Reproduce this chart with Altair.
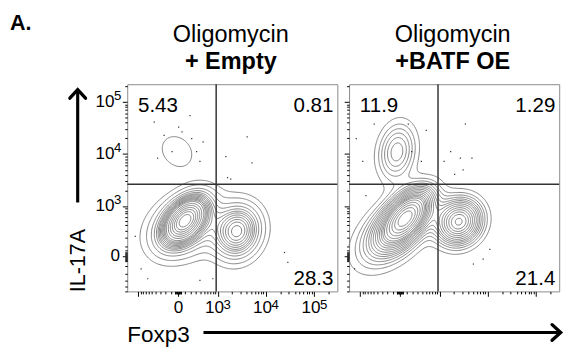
import numpy as np
import pandas as pd
import altair as alt

FONT = "Liberation Sans"

# ---------------- display transform (biexponential-like, arcsinh) ----------------
X_COFACTOR = 312.5   # Foxp3 channel
Y_COFACTOR = 222.0   # IL-17A channel


def tx(v):
    return np.arcsinh(np.asarray(v, dtype=float) / X_COFACTOR)


def ty(v):
    return np.arcsinh(np.asarray(v, dtype=float) / Y_COFACTOR)


X_DOMAIN = [-2.41, 7.56]   # display units
Y_DOMAIN = [-1.57, 7.59]

# ---------------- data ----------------
panel_top = ["Oligomycin", "Oligomycin"]
panel_bottom = ["+ Empty", "+BATF OE"]
q_upper_left = ["5.43", "11.9"]
q_upper_right = ["0.81", "1.29"]
q_lower_right = ["28.3", "21.4"]

gate_x = 1.81   # quadrant gate, display units
gate_y = 3.17

# populations (display units): centre x / y, sd x / y, correlation, weight
empty_cx = [0.34, 0.35, 2.81, -0.05]
empty_cy = [1.59, 1.30, 1.08, 4.62]
empty_sx = [0.62, 1.05, 0.68, 0.62]
empty_sy = [0.62, 0.85, 0.72, 0.58]
empty_r = [0.45, 0.25, 0.10, -0.20]
empty_w = [0.40, 0.27, 0.28, 0.027]

batf_cx = [0.32, -0.30, 2.80, -0.14]
batf_cy = [1.73, 1.10, 1.51, 4.60]
batf_sx = [0.70, 1.10, 0.68, 0.60]
batf_sy = [0.72, 1.00, 0.64, 0.85]
batf_r = [0.55, 0.50, 0.10, 0.15]
batf_w = [0.36, 0.28, 0.24, 0.11]

# outlier events (display units)
empty_dot_x = [-1.13, -0.97, -0.28, 0.19, 0.57, 0.65, 1.04, 0.88, 3.28, 2.35, 2.50, 3.51,
               -1.75, -1.44, -2.03, 5.05, 5.21, 1.65, 1.04, 0.03, -0.66, 1.19, 2.27]
empty_dot_y = [5.91, 4.32, 4.61, 5.48, 6.20, 5.19, 4.18, 4.61, 5.26, 3.46, 3.39, 4.11,
               -0.57, -1.01, 0.86, 0.15, -0.29, -1.01, -1.08, 5.69, 5.33, 5.04, 4.39]
batf_dot_x = [-1.22, -2.07, -1.76, 1.25, 1.02, 2.41, 2.87, 3.11, 3.42, 2.10, -1.61, -2.15,
              3.95, 3.49, 4.27, 0.40, 0.56, 2.60, 3.00]
batf_dot_y = [5.83, 5.19, 4.18, 5.55, 4.18, 4.61, 4.32, 5.83, 4.32, 4.18, 2.67, -0.57,
              -0.14, -0.36, 0.29, 5.83, 4.61, 3.60, 3.80]

# axis ticks (raw fluorescence)
x_major = [-1000, 0, 1000, 10000, 100000]
y_major = [0, 1000, 10000, 100000]
label_raw = [0, 1000, 10000, 100000]
label_base = ["0", "10", "10", "10"]
label_exp = ["", "3", "4", "5"]
near_zero = [-50, -40, -30, -20, -10, 10, 20, 30, 40, 50]
minor_raw = ([-m * 100 for m in range(9, 0, -1)] + near_zero + [m * 100 for m in range(1, 10)]
             + [m * 1000 for m in range(2, 10)] + [m * 10000 for m in range(2, 10)] + [200000])

prob_step = 0.05   # equal-probability contouring


# ---------------- helpers ----------------
def density(cx, cy, sx, sy, r, w, gx, gy):
    Z = np.zeros_like(gx)
    for a, b, s1, s2, rho, wt in zip(cx, cy, sx, sy, r, w):
        dx = (gx - a) / s1
        dy = (gy - b) / s2
        q = (dx * dx - 2 * rho * dx * dy + dy * dy) / (1 - rho * rho)
        Z += wt / (2 * np.pi * s1 * s2 * np.sqrt(1 - rho * rho)) * np.exp(-0.5 * q)
    return Z


def trace(Z, xs, ys, level):
    above = Z > level

    def pt(e):
        kind, i, j = e
        if kind == "h":
            za, zb = Z[j, i], Z[j, i + 1]
            t = (level - za) / (zb - za)
            return xs[i] + t * (xs[i + 1] - xs[i]), ys[j]
        za, zb = Z[j, i], Z[j + 1, i]
        t = (level - za) / (zb - za)
        return xs[i], ys[j] + t * (ys[j + 1] - ys[j])

    adj = {}

    def link(a, b):
        adj.setdefault(a, []).append(b)
        adj.setdefault(b, []).append(a)

    idx = (above[:-1, :-1].astype(int) + 2 * above[:-1, 1:] + 4 * above[1:, 1:] + 8 * above[1:, :-1])
    js, is_ = np.nonzero((idx > 0) & (idx < 15))
    for j, i in zip(js, is_):
        c = idx[j, i]
        B = ("h", i, j)
        R = ("v", i + 1, j)
        T = ("h", i, j + 1)
        L = ("v", i, j)
        if c in (5, 10):
            center = (Z[j, i] + Z[j, i + 1] + Z[j + 1, i + 1] + Z[j + 1, i]) / 4 > level
            if (c == 5) == bool(center):
                link(B, R); link(T, L)
            else:
                link(L, B); link(R, T)
            continue
        edges = []
        if above[j, i] != above[j, i + 1]:
            edges.append(B)
        if above[j, i + 1] != above[j + 1, i + 1]:
            edges.append(R)
        if above[j + 1, i + 1] != above[j + 1, i]:
            edges.append(T)
        if above[j + 1, i] != above[j, i]:
            edges.append(L)
        link(edges[0], edges[1])

    paths, visited = [], set()
    starts = [e for e, n in adj.items() if len(n) == 1] + list(adj.keys())
    for s in starts:
        if s in visited:
            continue
        chain = [s]
        visited.add(s)
        cur = s
        while True:
            nxt = None
            for n in adj[cur]:
                if n not in visited:
                    nxt = n
                    break
            if nxt is None:
                if len(chain) > 2 and s in adj[cur]:
                    chain.append(s)
                break
            chain.append(nxt)
            visited.add(nxt)
            cur = nxt
        paths.append([pt(e) for e in chain])
    return paths


def contour_frame(comps):
    xs = np.linspace(X_DOMAIN[0], X_DOMAIN[1], 200)
    ys = np.linspace(Y_DOMAIN[0], Y_DOMAIN[1], 200)
    gx, gy = np.meshgrid(xs, ys)
    Z = density(*comps, gx, gy)
    flat = np.sort(Z.ravel())[::-1]
    cum = np.cumsum(flat)
    cum = cum / cum[-1]
    rows = []
    pid = 0
    for f in np.arange(prob_step, 1.0 - 1e-9, prob_step):
        lvl = flat[min(np.searchsorted(cum, f), len(flat) - 1)]
        for path in trace(Z, xs, ys, lvl):
            for k, (px, py) in enumerate(path):
                rows.append((pid, k, px, py))
            pid += 1
    return pd.DataFrame(rows, columns=["path", "order", "x", "y"])


def in_dom(v, dom):
    return dom[0] <= v <= dom[1]


x_vals = sorted(float(v) for v in tx(sorted(set(x_major + minor_raw))) if in_dom(v, X_DOMAIN))
y_vals = sorted(float(v) for v in ty(sorted(set(y_major + minor_raw))) if in_dom(v, Y_DOMAIN))


def label_expr(tf):
    parts = [f"abs(datum.value - ({float(tf(m)):.6f})) < 0.0001 ? '{b}'"
             for m, b in zip(label_raw, label_base)]
    return " : ".join(parts) + " : ''"


def major_test(tf, majors):
    return " || ".join(f"abs(datum.value - ({float(tf(m)):.6f})) < 0.0001" for m in majors)


LABEL_SIZE = 17.5
EXP_SIZE = 13.5


def make_axis(vals, tf, majors, show, orient):
    kw = dict(
        values=vals, title=None, domain=False, grid=False,
        tickColor="black", tickWidth=1,
        tickSize={"condition": {"test": major_test(tf, majors), "value": 5}, "value": 2.5},
        labelOverlap=False, labelFlush=False, labelBound=False,
        labelFont=FONT, labelFontSize=LABEL_SIZE, labelColor="black",
    )
    if show:
        kw["labelExpr"] = label_expr(tf)
        if orient == "x":
            kw["labelPadding"] = 3
            kw["labelOffset"] = {"condition": {"test": "datum.value > 0.5", "value": -3.8}, "value": 0}
        else:
            kw["labelPadding"] = {"condition": {"test": "datum.value > 0.5", "value": 8.5}, "value": 3}
    else:
        kw["labels"] = False
    return alt.Axis(**kw)


one = pd.DataFrame({"k": [0]})
W, H = 215, 212


def panel(i, comps, dx, dy, left):
    xs = alt.Scale(domain=X_DOMAIN, nice=False, zero=False)
    ys = alt.Scale(domain=Y_DOMAIN, nice=False, zero=False)
    X = alt.X("x:Q", scale=xs, axis=make_axis(x_vals, tx, x_major, left, "x"))
    Y = alt.Y("y:Q", scale=ys, axis=make_axis(y_vals, ty, y_major, left, "y"))

    cdf = contour_frame(comps)
    lines = alt.Chart(cdf).mark_line(stroke="#6e6e6e", strokeWidth=0.85).encode(
        x=X, y=Y, detail="path:N", order="order:Q")
    dots = alt.Chart(pd.DataFrame({"x": dx, "y": dy})).mark_square(
        size=1.6, color="#222222", opacity=0.9).encode(x=X, y=Y)
    gv = alt.Chart(pd.DataFrame({"x": [gate_x]})).mark_rule(color="#333333", strokeWidth=1.5).encode(x=X)
    gh = alt.Chart(pd.DataFrame({"y": [gate_y]})).mark_rule(color="#333333", strokeWidth=1.5).encode(y=Y)

    def txt(s, x, y, align, size=21, weight="normal"):
        return alt.Chart(one).mark_text(font=FONT, fontSize=size, fontWeight=weight, align=align,
                                        baseline="alphabetic", color="black").encode(
            x=alt.value(x), y=alt.value(y), text=alt.value(s))

    layers = [lines, dots, gv, gh,
              txt(q_upper_left[i], 11, 28, "left"),
              txt(q_upper_right[i], W - 4, 28, "right"),
              txt(q_lower_right[i], W - 4, 205, "right"),
              txt(panel_top[i], 106, -43, "center", 24),
              txt(panel_bottom[i], 106, -16, "center", 24, "bold")]

    if left:
        exp_df_x = pd.DataFrame({"x": [float(v) for v in tx(label_raw[1:])], "e": label_exp[1:]})
        exp_df_y = pd.DataFrame({"y": [float(v) for v in ty(label_raw[1:])], "e": label_exp[1:]})
        x_exp = alt.Chart(exp_df_x).mark_text(font=FONT, fontSize=EXP_SIZE, align="left",
                                              baseline="alphabetic", color="black", dx=6).encode(
            x=X, y=alt.value(H + 18), text="e:N")
        y_exp = alt.Chart(exp_df_y).mark_text(font=FONT, fontSize=EXP_SIZE, align="left",
                                              baseline="alphabetic", color="black", dy=-2).encode(
            y=Y, x=alt.value(-13.5), text="e:N")

        chevron = "M -1 1.1 L 0 0 L 1 1.1"
        anchor = alt.Chart(one).mark_point(size=1, opacity=0, strokeWidth=0, filled=True).encode(
            x=alt.value(-120.5), y=alt.value(-72.5))
        a_lbl = txt("A.", -120, -55, "left", 22, "bold")
        y_line = alt.Chart(one).mark_rule(color="black", strokeWidth=3.2).encode(
            x=alt.value(-50.7), y=alt.value(121), y2=alt.value(8))
        y_head = alt.Chart(one).mark_point(shape=chevron, size=256, filled=False, color="black",
                                           strokeWidth=3.4, opacity=1, strokeCap="round").encode(
            x=alt.value(-50.7), y=alt.value(5.5))
        y_title = alt.Chart(one).mark_text(font=FONT, fontSize=22, angle=270, align="center",
                                           baseline="middle", color="black").encode(
            x=alt.value(-50), y=alt.value(180.5), text=alt.value("IL-17A"))
        x_title = txt("Foxp3", 0, 264, "left", 23)
        x_line = alt.Chart(one).mark_rule(color="black", strokeWidth=3.2).encode(
            x=alt.value(78), x2=alt.value(441), y=alt.value(254))
        x_head = alt.Chart(one).mark_point(shape=chevron, size=256, filled=False, color="black",
                                           strokeWidth=3.4, opacity=1, angle=90, strokeCap="round").encode(
            x=alt.value(443.5), y=alt.value(254))
        layers += [x_exp, y_exp, anchor, a_lbl, y_line, y_head, y_title, x_title, x_line, x_head]

    return alt.layer(*layers).properties(width=W, height=H)


left_panel = panel(0, (empty_cx, empty_cy, empty_sx, empty_sy, empty_r, empty_w),
                   empty_dot_x, empty_dot_y, True)
right_panel = panel(1, (batf_cx, batf_cy, batf_sx, batf_sy, batf_r, batf_w),
                    batf_dot_x, batf_dot_y, False)

chart = alt.hconcat(left_panel, right_panel, spacing=12, bounds="flush").properties(
    padding={"left": 0, "top": 0, "right": 0, "bottom": 0}
).configure_view(
    stroke="#8a8a8a", strokeWidth=1
).configure_axis(
    labelFontSize=LABEL_SIZE, labelFont=FONT, labelColor="black"
)

chart.save("out.html", embed_options={"renderer": "svg", "actions": False})
